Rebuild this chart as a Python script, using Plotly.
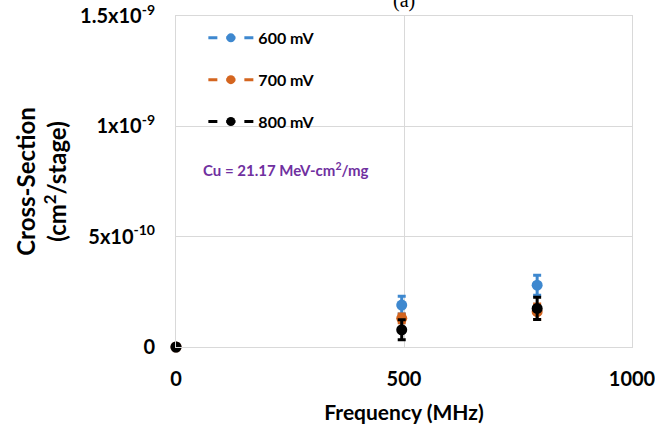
import plotly.graph_objects as go

freq = [0, 495, 792]
series_names = ["600 mV", "700 mV", "800 mV"]
colors = ["#3E88CF", "#D4651F", "#000000"]
cs_600 = [0, 1.9e-10, 2.8e-10]
err_600 = [0, 0.4e-10, 0.45e-10]
cs_700 = [0, 1.3e-10, 1.6e-10]
err_700 = [0, 0.2e-10, 0.35e-10]
cs_800 = [0, 0.78e-10, 1.75e-10]
err_800 = [0, 0.45e-10, 0.5e-10]
ytick_vals = [0, 5e-10, 1e-9, 1.5e-9]
ytick_text = ["0", "5x10<sup>-10</sup>", "1x10<sup>-9</sup>", "1.5x10<sup>-9</sup>"]
xtick_vals = [0, 500, 1000]

FONT = "Lato, 'Open Sans', sans-serif"

fig = go.Figure()
for name, col, ys, es in zip(series_names, colors, [cs_600, cs_700, cs_800], [err_600, err_700, err_800]):
    fig.add_trace(go.Scatter(
        x=freq, y=ys, mode="markers", name=name, showlegend=False,
        marker=dict(color=col, size=11), cliponaxis=False,
        error_y=dict(type="data", array=es, color=col, thickness=3, width=4),
    ))
for name, col in zip(series_names, colors):
    fig.add_trace(go.Scatter(
        x=[None], y=[None], mode="lines+markers", name=name, legendgroup=name,
        line=dict(color=col, width=3, dash="dash"),
        marker=dict(color=col, size=9),
    ))

fig.add_annotation(text="<b>Cu = 21.17 MeV-cm<sup>2</sup>/mg</b>", x=0.055, y=0.535,
                   xref="paper", yref="paper", xanchor="left", yanchor="middle",
                   showarrow=False, font=dict(family=FONT, size=15, color="#7030A0"))
fig.add_annotation(text="(a)", x=0.5, y=1.0, xref="paper", yref="paper",
                   yshift=2, xanchor="center", yanchor="bottom", showarrow=False,
                   font=dict(family="Liberation Serif", size=20, color="black"))

fig.update_layout(
    width=655, height=430,
    margin=dict(l=176, r=23, t=16, b=83),
    paper_bgcolor="white", plot_bgcolor="white",
    font=dict(family=FONT, color="black"),
    legend=dict(x=0.06, y=0.985, xanchor="left", yanchor="top",
                bgcolor="rgba(0,0,0,0)", tracegroupgap=18,
                font=dict(family=FONT, size=16, color="black", weight="bold"),
                itemwidth=45),
    xaxis=dict(range=[0, 1000], tickvals=xtick_vals, showgrid=True,
               gridcolor="#d9d9d9", gridwidth=1, zeroline=False, automargin=False,
               showline=True, linecolor="#d9d9d9", mirror=True,
               tickfont=dict(family=FONT, size=20, weight="bold"),
               ticks="", ticklabelstandoff=14, ticklabeloverflow="allow",
               title=dict(text="<b>Frequency (MHz)</b>", font=dict(family=FONT, size=21), standoff=16)),
    yaxis=dict(range=[0, 1.5e-9], tickvals=ytick_vals, ticktext=ytick_text,
               showgrid=True, gridcolor="#d9d9d9", gridwidth=1, zeroline=False, automargin=False,
               showline=True, linecolor="#d9d9d9", mirror=True,
               tickfont=dict(family=FONT, size=20, weight="bold"),
               ticks="", ticklabelstandoff=16, ticklabeloverflow="allow",
               title=dict(text="<b>Cross-Section<br>(cm<sup>2</sup>/stage)</b>",
                          font=dict(family=FONT, size=24), standoff=6)),
)

fig.write_html("out.html")
